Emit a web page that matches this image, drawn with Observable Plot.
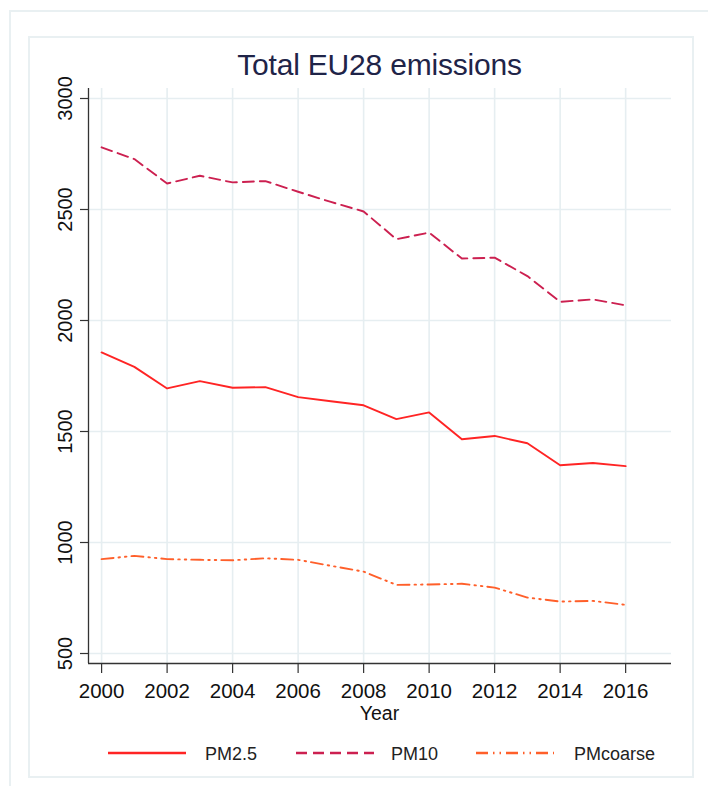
<!DOCTYPE html>
<html>
<head>
<meta charset="utf-8">
<script src="https://cdn.jsdelivr.net/npm/d3@7"></script>
<script src="https://cdn.jsdelivr.net/npm/@observablehq/plot@0.6"></script>
<style>
  html, body { margin: 0; padding: 0; background: #fff; }
  #wrap { position: relative; width: 708px; height: 786px; overflow: hidden; font-family: "Liberation Sans", Arial, sans-serif; }
  .frame { position: absolute; border: 2px solid #e9f0f2; box-sizing: border-box; }
  #title { position: absolute; left: 88px; width: 583px; top: 48px; text-align: center; font-size: 30px; line-height: normal; color: #1f2448; letter-spacing: -0.2px; }
  #plot { position: absolute; left: 0; top: 60px; }
  #xlabel { position: absolute; left: 88px; width: 583px; top: 702px; text-align: center; font-size: 19.5px; line-height: normal; color: #111; }
  #legend { position: absolute; top: 743px; left: 0; width: 708px; height: 24px; }
  .sw { position: absolute; top: 5px; }
  .lab { position: absolute; top: 0; font-size: 18px; line-height: 22px; color: #222; }
</style>
</head>
<body>
<div id="wrap">
  <div class="frame" style="left:9px; top:10px; width:720px; height:800px;"></div>
  <div class="frame" style="left:28px; top:36px; width:666px; height:742px;"></div>
  <div id="title">Total EU28 emissions</div>
  <div id="plot"></div>
  <div id="xlabel">Year</div>
  <div id="legend"></div>
</div>
<script>
const years = [2000, 2001, 2002, 2003, 2004, 2005, 2006, 2007, 2008, 2009, 2010, 2011, 2012, 2013, 2014, 2015, 2016];
const pm25 = [1856, 1791, 1694, 1727, 1697, 1700, 1655, 1636, 1618, 1556, 1586, 1465, 1480, 1447, 1348, 1358, 1344];
const pm10 = [2780, 2727, 2617, 2652, 2622, 2628, 2580, 2534, 2491, 2366, 2396, 2279, 2283, 2200, 2084, 2095, 2068];
const pmcoarse = [925, 940, 925, 922, 920, 929, 922, 895, 869, 809, 811, 814, 797, 752, 734, 737, 719];

const seriesNames = ["PM2.5", "PM10", "PMcoarse"];
const seriesValues = [pm25, pm10, pmcoarse];
const seriesColors = ["#ff2424", "#cc2050", "#ff5f2a"];
const seriesDash = [null, "11,6", "12,5,1.5,5,1.5,5"];

const xTicks = [2000, 2002, 2004, 2006, 2008, 2010, 2012, 2014, 2016];
const yTicks = [500, 1000, 1500, 2000, 2500, 3000];
const xDomain = [1999.6, 2017.4];
const yDomain = [455, 3045];

const gridColor = "#e6eef1";
const axisColor = "#333";

const lineMarks = seriesNames.map((name, i) => {
  const rows = years.map((yr, j) => ({year: yr, value: seriesValues[i][j], series: name}));
  return Plot.line(rows, {
    x: "year", y: "value",
    stroke: seriesColors[i], strokeWidth: 1.9,
    strokeDasharray: seriesDash[i] || undefined
  });
});

const chart = Plot.plot({
  width: 708,
  height: 670,
  marginLeft: 88,
  marginRight: 37,
  marginTop: 28,
  marginBottom: 67,
  style: {fontFamily: "'Liberation Sans', Arial, sans-serif", background: "transparent", color: "#111", overflow: "visible"},
  x: {domain: xDomain, axis: null, label: null},
  y: {domain: yDomain, axis: null, label: null},
  marks: [
    Plot.gridY(yTicks, {stroke: gridColor, strokeOpacity: 1, strokeWidth: 1.6}),
    Plot.gridX(xTicks, {stroke: gridColor, strokeOpacity: 1, strokeWidth: 1.6}),
    ...lineMarks,
    Plot.ruleX([xDomain[0]], {stroke: axisColor, strokeWidth: 1.3}),
    Plot.ruleY([yDomain[0]], {stroke: axisColor, strokeWidth: 1.3}),
    Plot.axisY(yTicks, {tickSize: 8, tickFormat: () => "", label: null, stroke: axisColor, strokeWidth: 1.2}),
    Plot.text(yTicks, {y: d => d, frameAnchor: "left", dx: -23, rotate: -90, text: d => String(d), fontSize: 20, fill: "#111", textAnchor: "middle"}),
    Plot.axisX(xTicks, {tickSize: 10, tickPadding: 10, fontSize: 20.5, tickFormat: d => String(d), label: null, stroke: axisColor, strokeWidth: 1.2, fill: "#111"})
  ]
});
document.getElementById("plot").appendChild(chart);

// legend
const legend = document.getElementById("legend");
const swatchX = [108, 296, 476];
const labelX = [205, 391, 574];
const ns = "http://www.w3.org/2000/svg";
seriesNames.forEach((name, i) => {
  const svg = document.createElementNS(ns, "svg");
  svg.setAttribute("class", "sw");
  svg.setAttribute("width", 78);
  svg.setAttribute("height", 10);
  svg.style.left = swatchX[i] + "px";
  const ln = document.createElementNS(ns, "line");
  ln.setAttribute("x1", 0); ln.setAttribute("x2", 78);
  ln.setAttribute("y1", 5); ln.setAttribute("y2", 5);
  ln.setAttribute("stroke", seriesColors[i]);
  ln.setAttribute("stroke-width", 2.6);
  if (seriesDash[i]) ln.setAttribute("stroke-dasharray", seriesDash[i]);
  svg.appendChild(ln);
  legend.appendChild(svg);
  const span = document.createElement("div");
  span.className = "lab";
  span.style.left = labelX[i] + "px";
  span.textContent = name;
  legend.appendChild(span);
});
</script>
</body>
</html>
